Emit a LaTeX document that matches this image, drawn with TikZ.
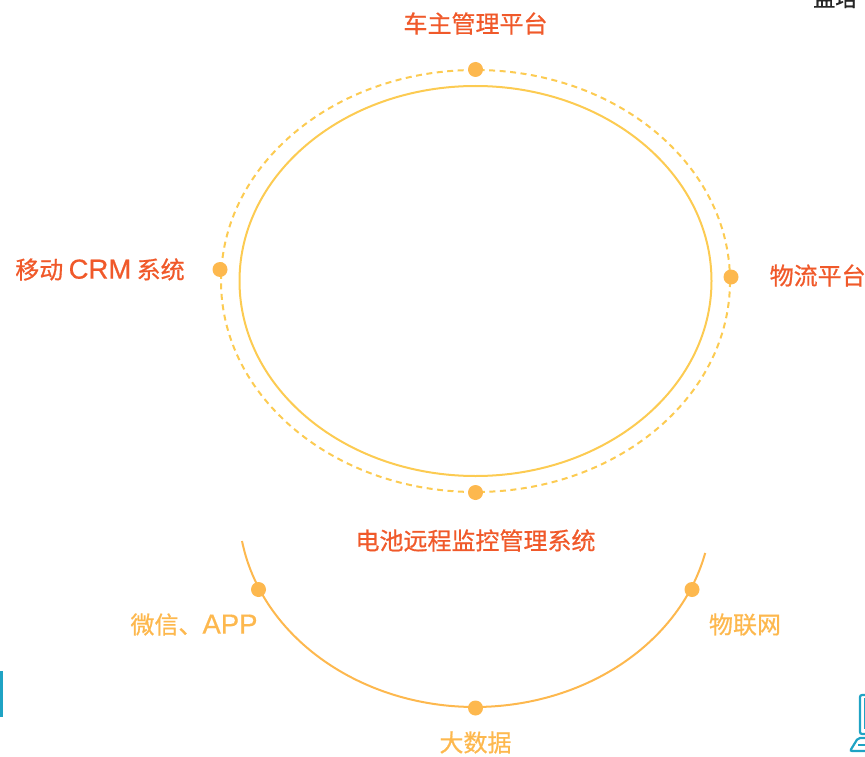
\documentclass[tikz,border=0pt]{standalone}
\usepackage{fontspec}
\setmainfont[FakeBold=0.7]{Noto Sans CJK SC}
\newfontfamily\latinpart[FakeBold=0.5]{Liberation Sans}
\newcommand{\lat}[1]{{\latinpart\fontsize{27.5}{28}\selectfont #1}}
\definecolor{redlabel}{HTML}{F0592A}
\definecolor{amber}{HTML}{FDB84E}
\definecolor{ringc}{HTML}{FCCB52}
\definecolor{teal}{HTML}{1FA3C4}
\tikzset{
  x=1pt,y=-1pt,
  toplabel/.style={font=\fontsize{24}{26}\selectfont,text=redlabel,inner sep=0pt,anchor=center},
  lowlabel/.style={font=\fontsize{24}{26}\selectfont,text=amber,inner sep=0pt,anchor=center},
  dotmark/.style={circle,fill=amber,draw=none,minimum size=15pt,inner sep=0pt},
  ring/.style={draw=ringc,line width=2pt},
  lowarc/.style={draw=amber,line width=2pt},
  iconline/.style={draw=teal,line width=2.2pt,rounded corners=2pt}
}
\begin{document}
\begin{tikzpicture}
\useasboundingbox (0,0) rectangle (865,757);
\clip (0,0) rectangle (865,757);
\coordinate (centre) at (475.5,281);
\draw[ring] (centre) ellipse [x radius=236,y radius=195];
\draw[ring,dash pattern=on 6pt off 4.5pt] (centre) ellipse [x radius=254.5,y radius=211];
\node[dotmark] (top) at (475.5,69.5) {};
\node[dotmark] (bottom) at (475.5,492.5) {};
\node[dotmark] (left) at (220,269.5) {};
\node[dotmark] (right) at (731,277) {};
\node[toplabel] (ltop) at (475.5,23.5) {车主管理平台};
\node[toplabel] (lleft) at (100,269.5) {移动 \lat{CRM} 系统};
\node[toplabel,anchor=west] (lright) at (769.5,275.5) {物流平台};
\node[toplabel] (lbottom) at (475.5,540.5) {电池远程监控管理系统};
\path[lowarc,draw] (242,541) arc [start angle=-170.2,end angle=-13.3,x radius=236.5,y radius=-200];
\node[dotmark] (a) at (258.5,589.5) {};
\node[dotmark] (b) at (475.5,708) {};
\node[dotmark] (c) at (692,589.5) {};
\node[lowlabel] (la) at (194,624.5) {微信、\lat{APP}};
\node[lowlabel] (lb) at (475.5,742.5) {大数据};
\node[lowlabel] (lc) at (745,624.5) {物联网};
\node[font=\fontsize{22}{24}\selectfont,text=black!85,inner sep=0pt,anchor=west] (cut) at (813,-2) {监培};
\draw[teal,line width=3.5pt,rounded corners=1pt] (1,671) -- (1,717);
\draw[iconline] (870,695) -- (860,695) -- (860,734) -- (870,734);
\draw[teal,line width=2pt] (864.5,698) -- (864.5,729);
\draw[iconline] (866,738) -- (858,738) -- (850,751) -- (870,751);
\draw[teal,line width=1.6pt] (858,745) -- (866,745);
\end{tikzpicture}
\end{document}
